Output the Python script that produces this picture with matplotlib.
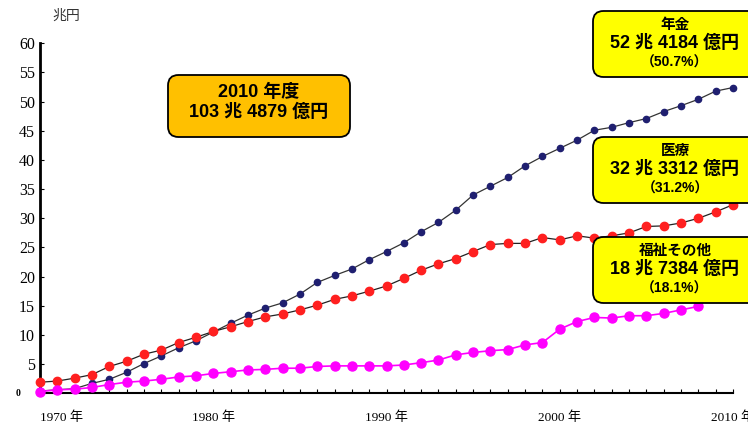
import matplotlib.pyplot as plt
from matplotlib.patches import FancyBboxPatch

# 社会保障給付費の推移 (兆円)
years = list(range(1970, 2011))
pension = [0.4, 0.6, 0.8, 1.7, 2.4, 3.6, 5.1, 6.4, 7.8, 9.0,
           10.5, 12.0, 13.4, 14.6, 15.5, 17.0, 19.0, 20.2, 21.3, 22.9,
           24.3, 25.8, 27.7, 29.3, 31.4, 34.0, 35.5, 37.0, 39.0, 40.6,
           42.0, 43.4, 45.1, 45.6, 46.4, 47.1, 48.3, 49.3, 50.4, 51.8,
           52.4184]
medical = [1.9, 2.1, 2.6, 3.2, 4.6, 5.5, 6.7, 7.4, 8.7, 9.6,
           10.6, 11.4, 12.3, 13.1, 13.6, 14.3, 15.1, 16.1, 16.7, 17.5,
           18.4, 19.7, 21.1, 22.2, 23.1, 24.3, 25.5, 25.7, 25.7, 26.7,
           26.3, 27.0, 26.6, 27.0, 27.5, 28.6, 28.7, 29.2, 30.0, 31.1,
           32.3312]
welfare = [0.3, 0.6, 0.7, 1.0, 1.5, 1.9, 2.1, 2.4, 2.8, 3.0,
           3.4, 3.7, 4.0, 4.1, 4.3, 4.3, 4.6, 4.7, 4.7, 4.7,
           4.7, 4.85, 5.25, 5.7, 6.6, 7.0, 7.3, 7.5, 8.3, 8.7,
           11.0, 12.3, 13.0, 12.9, 13.3, 13.3, 13.7, 14.3, 14.9, 17.3,
           18.7384]

yticks = [0, 5, 10, 15, 20, 25, 30, 35, 40, 45, 50, 55, 60]
xticks = [1970, 1980, 1990, 2000, 2010]
xlabels = ["1970 年", "1980 年", "1990 年", "2000 年", "2010 年"]

total_box = "2010 年度\n103 兆 4879 億円"
boxes = [
    ("年金", "52 兆 4184 億円", "（50.7%）"),
    ("医療", "32 兆 3312 億円", "（31.2%）"),
    ("福祉その他", "18 兆 7384 億円", "（18.1%）"),
]

W, H = 748, 425
serif = ["Liberation Serif", "Noto Sans CJK JP"]
sans = ["Liberation Sans", "Noto Sans CJK JP"]

fig = plt.figure(figsize=(W / 100, H / 100), dpi=100)
ax = fig.add_axes([40 / W, (H - 393.3) / H, 693 / W, 350 / H])

ax.plot(years, pension, color="#333333", lw=0.9, marker="o", ms=4.5,
        mfc="#1f1f70", mec="#1f1f70", clip_on=False, zorder=3)
ax.plot(years, medical, color="#222222", lw=0.9, marker="o", ms=6,
        mfc="#ff2020", mec="#ff2020", clip_on=False, zorder=3)
ax.plot(years, welfare, color="#ff00ff", lw=1.2, marker="o", ms=6.5,
        mfc="#ff00ff", mec="#ff00ff", clip_on=False, zorder=3)

ax.set_xlim(1970, 2010)
ax.set_ylim(0, 60)
for s in ["top", "right"]:
    ax.spines[s].set_visible(False)
ax.spines["left"].set_linewidth(2)
ax.spines["bottom"].set_linewidth(1.5)

# 0 is drawn separately, small and further left
ax.set_yticks(yticks)
ax.set_yticklabels([""] + [str(v) for v in yticks[1:]], family=serif, fontsize=11.5)
ax.text(-0.032, 0, "0", transform=ax.get_yaxis_transform(), family=serif,
        fontsize=7, weight="bold", ha="center", va="center")
ax.set_xticks(xticks)
ax.set_xticks(years, minor=True)
ax.set_xticklabels(xlabels, family=serif, fontsize=9.5)
ax.get_xticklabels()[0].set_horizontalalignment("left")
ax.tick_params(axis="both", which="both", direction="in", length=3, width=0.8)
ax.tick_params(axis="x", pad=13)

fig.text(52 / W, (H - 16) / H, "兆円", family=sans, fontsize=10,
         color="#333333", va="center")


def add_box(x0, y0, x1, y1, color):
    patch = FancyBboxPatch((x0 / W, (H - y1) / H), (x1 - x0) / W, (y1 - y0) / H,
                           boxstyle="round,pad=0,rounding_size=0.014",
                           transform=fig.transFigure, facecolor=color,
                           edgecolor="black", lw=1.3, zorder=5,
                           mutation_aspect=W / H)
    fig.add_artist(patch)


add_box(168, 75, 350, 137, "#ffc000")
fig.text(259 / W, (H - 102) / H, total_box, family=sans, weight="bold",
         fontsize=13, ha="center", va="center", linespacing=1.2, zorder=6)

tops = [11, 137, 237]
for (name, amount, share), top in zip(boxes, tops):
    add_box(593, top, 770, top + 66, "#ffff00")
    fig.text(675 / W, (H - top - 14) / H, name, family=sans, weight="bold",
             fontsize=10.5, ha="center", va="center", zorder=6)
    fig.text(675 / W, (H - top - 32) / H, amount, family=sans, weight="bold",
             fontsize=13, ha="center", va="center", zorder=6)
    fig.text(675 / W, (H - top - 52) / H, share, family=sans, weight="bold",
             fontsize=10, ha="center", va="center", zorder=6)

fig.savefig("out.png", dpi=100)
